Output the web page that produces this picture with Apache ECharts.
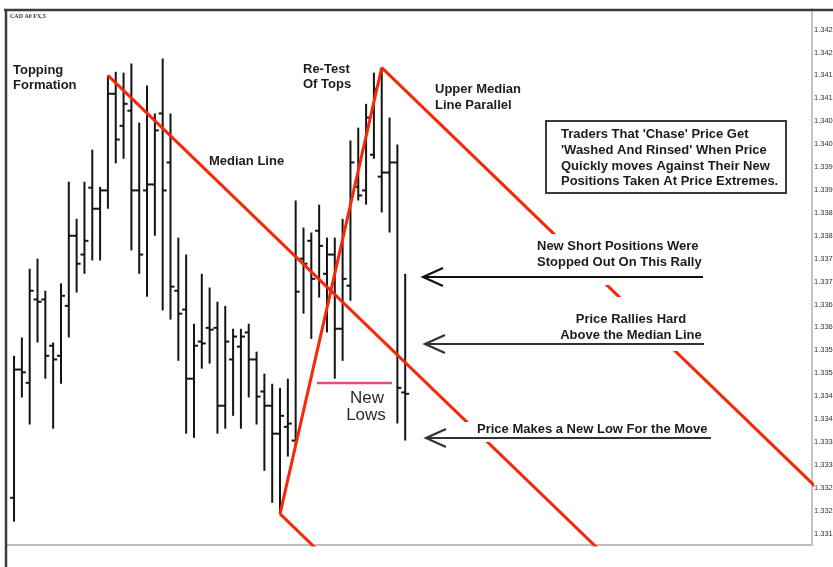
<!DOCTYPE html>
<html>
<head>
<meta charset="utf-8">
<title>CAD A0 FX,5</title>
<script src="https://cdn.jsdelivr.net/npm/echarts@6/dist/echarts.min.js"></script>
<style>
  html, body { margin: 0; padding: 0; background: #fff; }
  #chart { width: 833px; height: 567px; }
</style>
</head>
<body>
<div id="chart"></div>
<script>
// OHLC bars, one per bar (index = position)
var opens  = [1.33228, 1.33508, 1.33479, 1.33661, 1.33661, 1.33560, 1.33538, 1.33647, 1.33800, 1.33759,
              1.33905, 1.33859, 1.33899, 1.34110, 1.34040, 1.34073, 1.33899, 1.33899, 1.33912, 1.34067,
              1.33960, 1.33680, 1.33639, 1.33488, 1.33569, 1.33599, 1.33599, 1.33429, 1.33530, 1.33558,
              1.33589, 1.33530, 1.33460, 1.33429, 1.33368, 1.33383, 1.33353, 1.33750, 1.33789, 1.33811,
              1.33717, 1.33759, 1.33597, 1.33691, 1.33907, 1.33899, 1.33977, 1.33929, 1.33938, 1.33960,
              1.33458];
var highs  = [1.33538, 1.33578, 1.33728, 1.33750, 1.33680, 1.33567, 1.33696, 1.33918, 1.33837, 1.33918,
              1.33988, 1.33907, 1.34150, 1.34158, 1.34156, 1.34176, 1.34047, 1.34128, 1.34067, 1.34187,
              1.34067, 1.33796, 1.33759, 1.33608, 1.33717, 1.33687, 1.33656, 1.33647, 1.33597, 1.33597,
              1.33608, 1.33547, 1.33499, 1.33477, 1.33468, 1.33488, 1.33877, 1.33818, 1.33807, 1.33868,
              1.33796, 1.33796, 1.33837, 1.34008, 1.34036, 1.34088, 1.34156, 1.34167, 1.34058, 1.33999,
              1.33717];
var lows   = [1.33176, 1.33447, 1.33388, 1.33567, 1.33488, 1.33379, 1.33477, 1.33578, 1.33676, 1.33717,
              1.33746, 1.33746, 1.33859, 1.33958, 1.33968, 1.33768, 1.33717, 1.33667, 1.33800, 1.33637,
              1.33617, 1.33527, 1.33368, 1.33359, 1.33510, 1.33521, 1.33368, 1.33379, 1.33407, 1.33379,
              1.33447, 1.33388, 1.33287, 1.33217, 1.33193, 1.33318, 1.33342, 1.33630, 1.33575, 1.33665,
              1.33589, 1.33488, 1.33527, 1.33658, 1.33877, 1.33868, 1.33968, 1.33851, 1.33807, 1.33390,
              1.33353];
var closes = [1.33508, 1.33502, 1.33680, 1.33656, 1.33538, 1.33530, 1.33669, 1.33800, 1.33739, 1.33789,
              1.33859, 1.33899, 1.34110, 1.34010, 1.34088, 1.33899, 1.33759, 1.33912, 1.34030, 1.33899,
              1.33689, 1.33630, 1.33488, 1.33560, 1.33565, 1.33595, 1.33429, 1.33569, 1.33580, 1.33580,
              1.33530, 1.33449, 1.33429, 1.33368, 1.33407, 1.33390, 1.33678, 1.33739, 1.33706, 1.33778,
              1.33759, 1.33597, 1.33706, 1.33960, 1.33888, 1.34058, 1.34121, 1.33938, 1.33960, 1.33468,
              1.33455];

// pitchfork anchors: pivot top, handle low, handle high
var pivotBars   = [12, 34, 47];
var pivotPrices = [1.34150, 1.33193, 1.34167];

// price axis: labels every 0.0005
var labelStep = 0.0005;
var priceMin = 1.33125;
var priceMax = 1.34295;

var ohlc = opens.map(function (o, i) {
  return [i, o, highs[i], lows[i], closes[i]];
});

// median line goes from the pivot through the middle of the handle
var midBar = (pivotBars[1] + pivotBars[2]) / 2;
var midPrice = (pivotPrices[1] + pivotPrices[2]) / 2;
var slope = (midPrice - pivotPrices[0]) / (midBar - pivotBars[0]);
var farBar = 115;
function forkLine(i) {
  return [[pivotBars[i], pivotPrices[i]], [farBar, pivotPrices[i] + slope * (farBar - pivotBars[i])]];
}
var medianLine = forkLine(0);
var lowerLine = forkLine(1);
var upperLine = forkLine(2);
var handleLine = [[pivotBars[1], pivotPrices[1]], [pivotBars[2], pivotPrices[2]]];

var RED = '#f5280a';
var INK = '#1c1c1c';
var boldFont = 'bold 13px "Liberation Sans", Arial, sans-serif';

function txt(s, x, y, opt) {
  opt = opt || {};
  return {
    type: 'text', z: 120,
    style: {
      text: s, x: x, y: y,
      font: opt.font || boldFont,
      fill: opt.fill || INK,
      textAlign: opt.align || 'left',
      textVerticalAlign: 'middle'
    }
  };
}
function mask(x, y, w, h) {
  return { type: 'rect', z: 110, shape: { x: x, y: y, width: w, height: h }, style: { fill: '#fff' } };
}
function arrow(x1, x2, y, color) {
  return [
    { type: 'line', z: 125, shape: { x1: x1, y1: y, x2: x2, y2: y }, style: { stroke: color, lineWidth: 2.2 } },
    { type: 'polyline', z: 125, shape: { points: [[x1 + 20, y - 9], [x1, y], [x1 + 20, y + 9]] },
      style: { stroke: color, lineWidth: 2.2, fill: null } }
  ];
}

var chart = echarts.init(document.getElementById('chart'));

var graphics = [
  // frame edges
  { type: 'line', z: 130, shape: { x1: 4, y1: 10, x2: 833, y2: 10 }, style: { stroke: '#3c3c3c', lineWidth: 2.5 } },
  { type: 'line', z: 130, shape: { x1: 6, y1: 9, x2: 6, y2: 567 }, style: { stroke: '#3c3c3c', lineWidth: 2.5 } },

  mask(530, 234, 185, 51),
  mask(548, 297, 167, 54),
  mask(462, 422, 255, 20),

  txt('CAD A0 FX,5', 10, 16, { font: 'bold 6px "Liberation Serif", serif', fill: '#333' }),
  txt('Topping', 13, 70), txt('Formation', 13, 85),
  txt('Median Line', 209, 161),
  txt('Re-Test', 303, 69), txt('Of Tops', 303, 84),
  txt('Upper Median', 435, 89), txt('Line Parallel', 435, 105),

  { type: 'rect', z: 115, shape: { x: 546, y: 121, width: 240, height: 72 },
    style: { fill: '#fff', stroke: '#3a3a3a', lineWidth: 2 } },
  txt("Traders That 'Chase' Price Get", 561, 134),
  txt("'Washed And Rinsed' When Price", 561, 150),
  txt('Quickly moves Against Their New', 561, 166),
  txt('Positions Taken At Price Extremes.', 561, 181),

  txt('New Short Positions Were', 537, 246),
  txt('Stopped Out On This Rally', 537, 262),

  txt('Price Rallies Hard', 631, 319, { align: 'center' }),
  txt('Above the Median Line', 631, 335, { align: 'center' }),

  txt('Price Makes a New Low For the Move', 477, 429),

  { type: 'line', z: 120, shape: { x1: 317, y1: 383, x2: 392, y2: 383 }, style: { stroke: '#e8488a', lineWidth: 2.5 } },
  txt('New', 367, 398, { font: '17px "Liberation Sans", Arial', fill: '#2a2a2a', align: 'center' }),
  txt('Lows', 366, 415, { font: '17px "Liberation Sans", Arial', fill: '#2a2a2a', align: 'center' })
].concat(arrow(423, 703, 277, '#111'), arrow(425, 704, 344, '#333'), arrow(426, 711, 438, '#333'));

var option = {
  animation: false,
  backgroundColor: '#fff',
  grid: { left: 7, right: 21, top: 9, bottom: 22, containLabel: false, outerBoundsMode: 'none' },
  xAxis: {
    type: 'value', min: -0.9, max: 102,
    axisLine: { show: true, onZero: false, lineStyle: { color: '#bdbdbd', width: 2 } },
    axisTick: { show: false }, axisLabel: { show: false }, splitLine: { show: false }
  },
  yAxis: {
    type: 'value', position: 'right', min: priceMin, max: priceMax, interval: 0.00005,
    axisLine: { show: true, onZero: false, lineStyle: { color: '#c4c4c4', width: 2 } },
    axisTick: { show: false }, splitLine: { show: false },
    axisLabel: {
      margin: 2, fontSize: 7.5, color: '#333', fontFamily: 'Liberation Sans, Arial',
      formatter: function (v) {
        var k = Math.round(v / labelStep);
        return Math.abs(k * labelStep - v) < 1e-9 ? v.toFixed(4) : '';
      }
    }
  },
  series: [
    {
      type: 'custom', name: 'bars', z: 3,
      data: ohlc,
      encode: { x: 0, y: [1, 2, 3, 4] },
      renderItem: function (params, api) {
        var i = api.value(0);
        var o = api.coord([i, api.value(1)]);
        var h = api.coord([i, api.value(2)]);
        var l = api.coord([i, api.value(3)]);
        var c = api.coord([i, api.value(4)]);
        var st = { stroke: '#141414', lineWidth: 2 };
        return {
          type: 'group',
          children: [
            { type: 'line', shape: { x1: h[0], y1: h[1], x2: l[0], y2: l[1] }, style: st },
            { type: 'line', shape: { x1: o[0] - 4, y1: o[1], x2: o[0], y2: o[1] }, style: st },
            { type: 'line', shape: { x1: c[0], y1: c[1], x2: c[0] + 4, y2: c[1] }, style: st }
          ]
        };
      }
    },
    { type: 'line', data: medianLine, symbol: 'none', z: 4, lineStyle: { color: RED, width: 3 } },
    { type: 'line', data: upperLine, symbol: 'none', z: 4, lineStyle: { color: RED, width: 3 } },
    { type: 'line', data: lowerLine, symbol: 'none', z: 4, lineStyle: { color: RED, width: 3 } },
    { type: 'line', data: handleLine, symbol: 'none', z: 4, lineStyle: { color: RED, width: 3 } }
  ],
  graphic: graphics
};

chart.setOption(option);
</script>
</body>
</html>
